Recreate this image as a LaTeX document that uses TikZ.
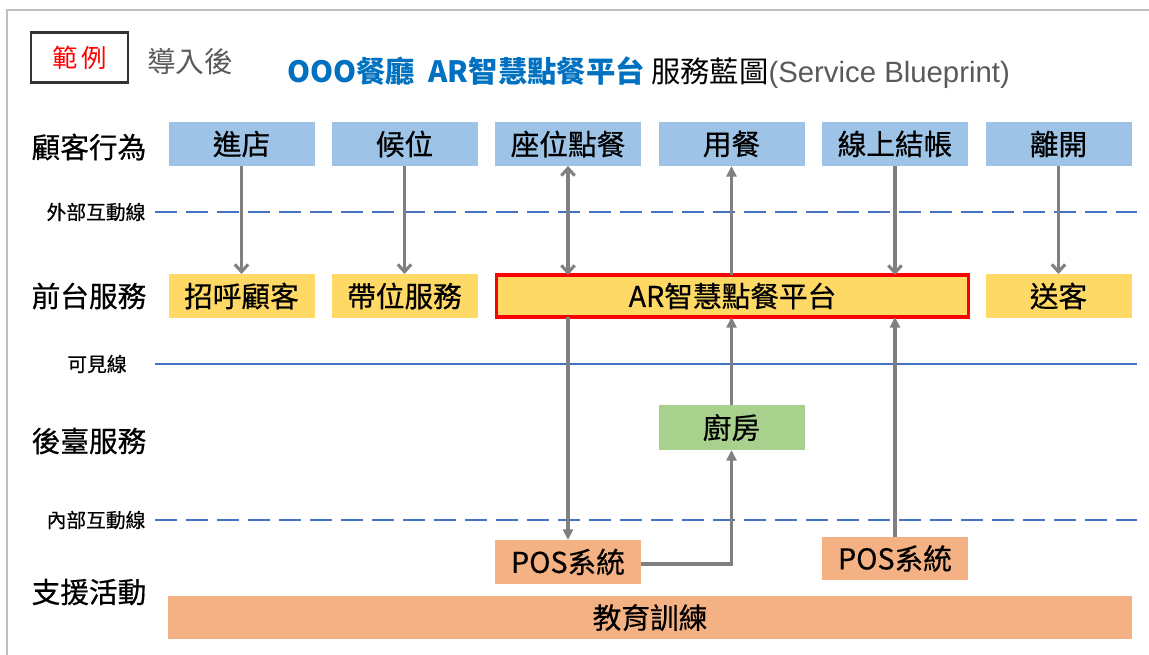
\documentclass[tikz,border=0pt]{standalone}
\usepackage{fontspec}
\setmainfont{Noto Sans CJK TC}
\newfontfamily\heavy{Noto Sans CJK TC}[FakeBold=0.5]
\newfontfamily\latinfont{Liberation Sans}
\usetikzlibrary{arrows.meta}
\definecolor{bluebox}{HTML}{9DC3E6}
\definecolor{yellowbox}{HTML}{FFD966}
\definecolor{greenbox}{HTML}{A9D18E}
\definecolor{orangebox}{HTML}{F4B183}
\definecolor{redborder}{HTML}{FF0000}
\definecolor{lineblue}{HTML}{4472C4}
\definecolor{arrowgray}{HTML}{808080}
\definecolor{titleblue}{HTML}{0070C0}
\definecolor{textgray}{HTML}{595959}
\definecolor{framegray}{HTML}{BFBFBF}
\begin{document}
\begin{tikzpicture}[x=0.75pt,y=-0.75pt,
  box/.style={fill=#1, inner sep=0pt, outer sep=0pt, minimum width=109.5pt, minimum height=33pt,
              font=\heavy\fontsize{21.5}{23}\selectfont},
  rowlabel/.style={inner sep=0pt, font=\heavy\fontsize{21.5}{23}\selectfont},
  linelabel/.style={inner sep=0pt, font=\heavy\fontsize{14.8}{16}\selectfont},
  arr/.style={draw=arrowgray, line width=2.3pt, -{Triangle[length=8pt,width=7.5pt]}},
  barb/.style={draw=arrowgray, line width=2.3pt, -{Straight Barb[length=5.5pt,width=10pt,line width=2.3pt]}},
  dbl/.style={draw=arrowgray, line width=2.3pt, {Straight Barb[length=5.5pt,width=10pt,line width=2.3pt]}-{Straight Barb[length=5.5pt,width=10pt,line width=2.3pt]}},
  divdash/.style={draw=lineblue, line width=2.2pt, dash pattern=on 16.5pt off 6.75pt},
  divsolid/.style={draw=lineblue, line width=2.2pt}
]
\useasboundingbox (0,0) rectangle (1149,654);
% frame
\draw[framegray, line width=1.5pt] (7,660) -- (7,10) -- (1155,10);

% header
\node[draw=black!80, line width=1.6pt, minimum width=72.75pt, minimum height=37.5pt, inner sep=0pt,
      text=redborder, font=\fontsize{19}{20}\selectfont] (example) at (79.5,57.5) {範\,例};
\node[text=textgray, font=\fontsize{21.5}{23}\selectfont, inner sep=0pt] (after) at (190,62) {導入後};
\node[anchor=west, inner sep=0pt, font=\fontsize{22}{24}\selectfont] (title) at (287,73)
  {{\color{titleblue}\bfseries OOO餐廳\ \ AR智慧點餐平台} 服務藍圖{\color{textgray}\latinfont(Service Blueprint)}};

% row labels
\node[rowlabel] (lab1) at (89,147) {顧客行為};
\node[rowlabel] (lab2) at (89,296) {前台服務};
\node[rowlabel] (lab3) at (89,441) {後臺服務};
\node[rowlabel] (lab4) at (89,592) {支援活動};

% line labels and divider lines
\node[linelabel] (ext) at (96,212) {外部互動線};
\node[linelabel] (vis) at (97,364) {可見線};
\node[linelabel] (int) at (96,520) {內部互動線};
\draw[divdash] (155,212) -- (1137,212);
\draw[divsolid] (155,364) -- (1137,364);
\draw[divdash] (155,520) -- (1137,520);

% row 1
\node[box=bluebox] (enter) at (241.5,144) {進店};
\node[box=bluebox] (wait) at (404.5,144) {候位};
\node[box=bluebox] (seat) at (568,144) {座位點餐};
\node[box=bluebox] (eat) at (731.5,144) {用餐};
\node[box=bluebox] (pay) at (895,144) {線上結帳};
\node[box=bluebox] (leave) at (1058.5,144) {離開};

% row 2
\node[box=yellowbox] (greet) at (241.5,296) {招呼顧客};
\node[box=yellowbox] (guide) at (404.5,296) {帶位服務};
\node[box=yellowbox, draw=redborder, line width=2.3pt, minimum width=354pt, minimum height=31.5pt] (ar) at (732.5,296) {AR智慧點餐平台};
\node[box=yellowbox] (send) at (1058.5,296) {送客};

% back stage
\node[box=greenbox, minimum height=33.75pt] (kitchen) at (731.5,427.5) {廚房};

% support
\node[box=orangebox] (pos1) at (568,562) {POS系統};
\node[box=orangebox, minimum height=32.25pt] (pos2) at (895,558.5) {POS系統};
\node[box=orangebox, minimum width=723pt, minimum height=32.25pt] (train) at (650,617.5) {教育訓練};

% connectors
\draw[barb] (enter.south) -- (greet.north);
\draw[barb] (wait.south) -- (guide.north);
\draw[dbl] (seat.south) -- (seat.south |- ar.north);
\draw[arr] (ar.north -| eat.south) -- (eat.south);
\draw[barb] (pay.south) -- (pay.south |- ar.north);
\draw[barb] (leave.south) -- (send.north);
\draw[arr] (ar.south -| pos1.north) -- (pos1.north);
\draw[arr] (kitchen.north) -- (kitchen.north |- ar.south);
\draw[arr] ([yshift=-1.5pt]pos1.east) -| (kitchen.south);
\draw[arr] (pos2.north) -- (pos2.north |- ar.south);
\end{tikzpicture}
\end{document}
